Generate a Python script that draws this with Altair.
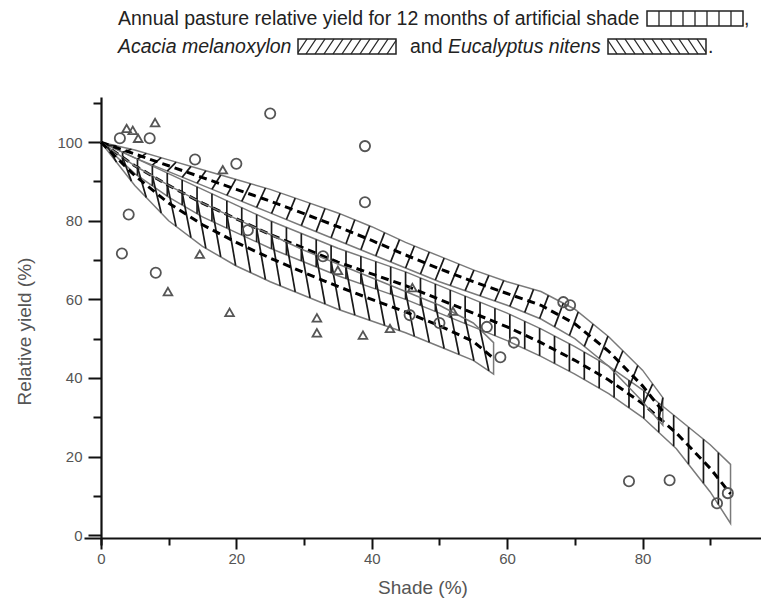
import altair as alt
import numpy as np
import pandas as pd

# ---------------- values ----------------
# Acacia melanoxylon band (upper, "/" hatch)
ac_x   = [0, 5, 10, 15, 20, 25, 30, 35, 40, 45, 50, 55, 60, 65, 70, 75, 80, 83]
ac_hi  = [100, 98, 95.5, 93, 90.5, 88, 85, 82, 78.5, 74.5, 71, 67.5, 64.5, 62, 57.5, 50.5, 42, 35]
ac_lo  = [100, 96, 92.5, 89, 85.5, 82, 78.5, 75, 71.5, 68, 64.5, 61.5, 58.5, 55, 50, 43, 34, 28]
ac_fit = [100, 97, 94, 91, 88, 85, 81.8, 78.5, 75, 71.3, 67.8, 64.5, 61.5, 58.5, 53.8, 46.8, 38, 31.5]

# artificial shade band (long, vertical hatch)
ar_x   = [0, 5, 10, 15, 20, 25, 30, 35, 40, 45, 50, 55, 60, 65, 70, 75, 80, 85, 90, 93]
ar_hi  = [100, 96, 92, 88, 84, 80, 76.5, 73, 70, 67, 63.5, 60, 56.5, 52.5, 48, 43, 37, 30, 23, 18]
ar_lo  = [100, 92, 86, 81, 77, 73, 69.5, 66, 63, 60, 56.5, 53, 49.5, 45.5, 41, 36, 30, 22, 11, 3]
ar_fit = [100, 94, 89, 84.5, 80.5, 76.5, 73, 69.5, 66.5, 63.5, 60, 56.5, 53, 49, 44.5, 39.5, 33.5, 26, 17, 10.5]

# Eucalyptus nitens band (lower, "\" hatch)
eu_x   = [0, 5, 10, 15, 20, 25, 30, 35, 40, 45, 50, 55, 58]
eu_hi  = [100, 94, 89, 84.5, 80.5, 76.5, 72.5, 69, 65.5, 62, 58.5, 54, 49]
eu_lo  = [100, 89, 80, 73.5, 68.5, 64.5, 61, 57.5, 54.5, 51.5, 48, 44.5, 41]
eu_fit = [100, 91.5, 84.5, 79, 74.5, 70.5, 66.8, 63.3, 60, 56.8, 53.3, 49.3, 45]

# observations
circ_x = [2.8, 7.2, 3.1, 4.1, 8.1, 13.9, 20, 21.7, 25, 32.8, 39, 39, 45.6, 50, 57, 59, 61, 68.3, 69.3, 78, 84, 91, 92.6]
circ_y = [101, 101, 71.7, 81.6, 66.8, 95.6, 94.5, 77.6, 107.3, 71, 99, 84.7, 56, 54, 53, 45.3, 49, 59.3, 58.5, 13.7, 14, 8.1, 10.7]
tri_x = [3.8, 4.7, 5.5, 8, 9.9, 14.6, 18, 19, 31.9, 31.9, 35, 38.7, 42.7, 46, 52]
tri_y = [103.5, 103, 101, 105, 62, 71.5, 93, 56.7, 55.3, 51.5, 67.4, 50.9, 52.6, 63, 57]

x_ticks = [0, 10, 20, 30, 40, 50, 60, 70, 80, 90]
y_ticks = [0, 10, 20, 30, 40, 50, 60, 70, 80, 90, 100, 110]

title1 = "Annual pasture relative yield for 12 months of artificial shade"
title2a = "Acacia melanoxylon"
title2b = "and"
title2c = "Eucalyptus nitens"

# ---------------- layout ----------------
W, H = 677, 448
FONT = "Liberation Sans, Arial, sans-serif"

xscale = alt.Scale(domain=[-2.5, 97.5], nice=False, zero=False)
yscale = alt.Scale(domain=[-2.5, 111.5], nice=False, zero=False)

xaxis = alt.Axis(
    values=x_ticks, title="Shade (%)",
    labelExpr="datum.value % 20 === 0 ? datum.label : ''",
    tickSize={"condition": {"test": "datum.value % 20 === 0", "value": 11}, "value": 7},
    offset=-7, grid=False, domainColor="#111", domainWidth=2.2, tickColor="#111", tickWidth=2,
    labelFont=FONT, labelFontSize=15, labelColor="#555", labelPadding=2,
    titleFont=FONT, titleFontSize=19, titleColor="#555", titleFontWeight="normal", titlePadding=12,
)
yaxis = alt.Axis(
    values=y_ticks, title="Relative yield (%)",
    labelExpr="datum.value % 20 === 0 && datum.value <= 100 ? datum.label : ''",
    tickSize={"condition": {"test": "datum.value % 20 === 0 && datum.value <= 100", "value": 13}, "value": 8},
    offset=-17, grid=False, domainColor="#111", domainWidth=2.2, tickColor="#111", tickWidth=2,
    labelFont=FONT, labelFontSize=15, labelColor="#555", labelPadding=6,
    titleFont=FONT, titleFontSize=19, titleColor="#555", titleFontWeight="normal", titlePadding=22,
    titleY=234,
)


def X(f):
    return alt.X(f, type="quantitative", scale=xscale, axis=xaxis)


def Y(f):
    return alt.Y(f, type="quantitative", scale=yscale, axis=yaxis)


layers = []

def outline(xs, hi, lo):
    px = list(xs) + list(xs[::-1]) + [xs[0]]
    py = list(hi) + list(lo[::-1]) + [hi[0]]
    df = pd.DataFrame({"x": px, "y": py, "o": range(len(px))})
    return alt.Chart(df).mark_line(color="#7a7a7a", strokeWidth=1.5).encode(
        x=X("x"), y=Y("y"), order=alt.Order("o:Q"))


def hatch(xs, hi, lo, kind, step=2.2, d=1.3):
    rows = []
    start, end = xs[0] + 1.0, xs[-1]
    for xi in np.arange(start, end, step):
        if kind == "v":
            rows.append((xi, np.interp(xi, xs, lo), xi, np.interp(xi, xs, hi)))
        else:
            x2 = min(xi + d, end)
            if kind == "/":
                rows.append((xi, np.interp(xi, xs, lo), x2, np.interp(x2, xs, hi)))
            else:
                rows.append((xi, np.interp(xi, xs, hi), x2, np.interp(x2, xs, lo)))
    df = pd.DataFrame(rows, columns=["x", "y", "x2", "y2"])
    return alt.Chart(df).mark_rule(color="#1a1a1a", strokeWidth=1.7).encode(
        x=X("x"), y=Y("y"), x2="x2", y2="y2")


def fit(xs, ys):
    df = pd.DataFrame({"x": xs, "y": ys})
    return alt.Chart(df).mark_line(color="#000", strokeWidth=3, strokeDash=[8, 5]).encode(
        x=X("x"), y=Y("y"))


for xs, hi, lo, k, fy in [(ar_x, ar_hi, ar_lo, "v", ar_fit),
                          (ac_x, ac_hi, ac_lo, "/", ac_fit),
                          (eu_x, eu_hi, eu_lo, "\\", eu_fit)]:
    layers.append(outline(xs, hi, lo))
    layers.append(hatch(xs, hi, lo, k))
    layers.append(fit(xs, fy))

circ = alt.Chart(pd.DataFrame({"x": circ_x, "y": circ_y})).mark_point(
    shape="circle", size=105, filled=False, color="#555", strokeWidth=1.8, opacity=1).encode(x=X("x"), y=Y("y"))
tri = alt.Chart(pd.DataFrame({"x": tri_x, "y": tri_y})).mark_point(
    shape="triangle-up", size=75, filled=False, color="#555", strokeWidth=1.8, opacity=1).encode(x=X("x"), y=Y("y"))
layers += [circ, tri]

# ---------------- title with hatched key boxes (pixel positions) ----------------
one = pd.DataFrame({"a": [0]})
TS = 19.5

def text(s, x, y, italic=False, size=TS):
    return alt.Chart(one).mark_text(
        text=s, align="left", baseline="alphabetic", font=FONT, fontSize=size,
        fontStyle="italic" if italic else "normal", color="#222").encode(
        x=alt.value(x), y=alt.value(y))


def box(x0, x1, y0, y1, kind):
    out = [alt.Chart(one).mark_rect(filled=False, stroke="#222", strokeWidth=1.5).encode(
        x=alt.value(x0), x2=alt.value(x1), y=alt.value(y0), y2=alt.value(y1))]
    segs = []
    h = y1 - y0
    if kind == "v":
        n = 8
        for k in range(1, n):
            xx = x0 + k * (x1 - x0) / n
            segs.append((xx, y0, xx, y1))
    else:
        dx, sp = 10.0, 9.0
        c = x0 - dx
        while c < x1:
            t0 = max(0.0, (x0 - c) / dx)
            t1 = min(1.0, (x1 - c) / dx)
            if t1 > t0:
                xa, xb = c + t0 * dx, c + t1 * dx
                if kind == "/":
                    ya, yb = y1 - t0 * h, y1 - t1 * h
                else:
                    ya, yb = y0 + t0 * h, y0 + t1 * h
                segs.append((xa, ya, xb, yb))
            c += sp
    for (xa, ya, xb, yb) in segs:
        out.append(alt.Chart(one).mark_rule(color="#222", strokeWidth=1.3).encode(
            x=alt.value(xa), y=alt.value(ya), x2=alt.value(xb), y2=alt.value(yb)))
    return out

# plot origin on page is (84, 97)
layers.append(text(title1, 34, -72))
layers += box(563, 659, -86, -71, "v")
layers.append(text(",", 660, -72))
layers.append(text(title2a, 34, -44, italic=True))
layers += box(214, 312, -58, -43, "/")
layers.append(text(title2b, 326, -44))
layers.append(text(title2c, 364, -44, italic=True))
layers += box(524, 622, -58, -43, "\\")
layers.append(text(".", 624, -44))

chart = alt.layer(*layers).properties(
    width=W, height=H,
    autosize=alt.AutoSizeParams(type="none"),
    padding={"left": 76, "top": 89, "right": 0, "bottom": 63},
    background="white",
).configure_view(stroke=None)

chart.save("out.html", embed_options={"renderer": "svg", "actions": False})
